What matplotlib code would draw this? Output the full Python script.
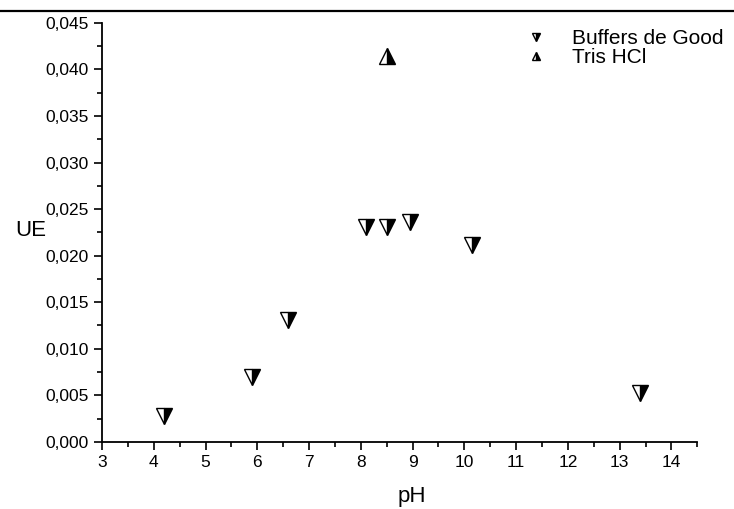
import matplotlib
matplotlib.use("Agg")
import matplotlib.pyplot as plt
from matplotlib.lines import Line2D
from matplotlib.ticker import MultipleLocator, FuncFormatter

plt.rcParams['font.family'] = ['Liberation Sans', 'DejaVu Sans']

# Buffers de Good
ph_good = [4.2, 5.9, 6.6, 8.1, 8.5, 8.95, 10.15, 13.4]
ue_good = [0.0028, 0.0070, 0.0131, 0.0231, 0.0231, 0.0236, 0.0211, 0.0052]

# Tris HCl
ph_tris = [8.5]
ue_tris = [0.0414]

fig = plt.figure(figsize=(7.34, 5.09), dpi=100)
ax = fig.add_axes([0.139, 0.132, 0.811, 0.823])

ax.plot(ph_good, ue_good, linestyle='none', marker='v', markersize=12,
        fillstyle='right', markerfacecolor='black', markerfacecoloralt='white',
        markeredgecolor='black', markeredgewidth=1.0, label='Buffers de Good')
ax.plot(ph_tris, ue_tris, linestyle='none', marker='^', markersize=12,
        fillstyle='right', markerfacecolor='black', markerfacecoloralt='white',
        markeredgecolor='black', markeredgewidth=1.0, label='Tris HCl')

ax.set_xlim(3, 14.5)
ax.set_ylim(0, 0.045)
ax.xaxis.set_major_locator(MultipleLocator(1))
ax.xaxis.set_minor_locator(MultipleLocator(0.5))
ax.yaxis.set_major_locator(MultipleLocator(0.005))
ax.yaxis.set_minor_locator(MultipleLocator(0.0025))
ax.yaxis.set_major_formatter(FuncFormatter(lambda v, p: f"{v:.3f}".replace('.', ',')))

ax.tick_params(which='major', direction='out', length=6, width=1.2, labelsize=12.5)
ax.tick_params(which='minor', direction='out', length=3.5, width=1.2)

for s in ['top', 'right']:
    ax.spines[s].set_visible(False)
for s in ['left', 'bottom']:
    ax.spines[s].set_linewidth(1.3)

ax.set_xlabel('pH', fontsize=16)
ax.set_ylabel('UE', fontsize=16, rotation=0)
ax.xaxis.set_label_coords(0.52, -0.105)
ax.yaxis.set_label_coords(-0.12, 0.48)

leg = ax.legend(loc='upper right', bbox_to_anchor=(1.075, 1.03), frameon=False,
                fontsize=15, markerscale=0.5, handletextpad=1.0,
                labelspacing=0.0, handlelength=1.4)

# rule across the top of the figure
fig.add_artist(Line2D([0, 1], [1 - 11 / 509, 1 - 11 / 509], color='black',
                      linewidth=1.6, transform=fig.transFigure))

fig.savefig('out.png', dpi=100)
